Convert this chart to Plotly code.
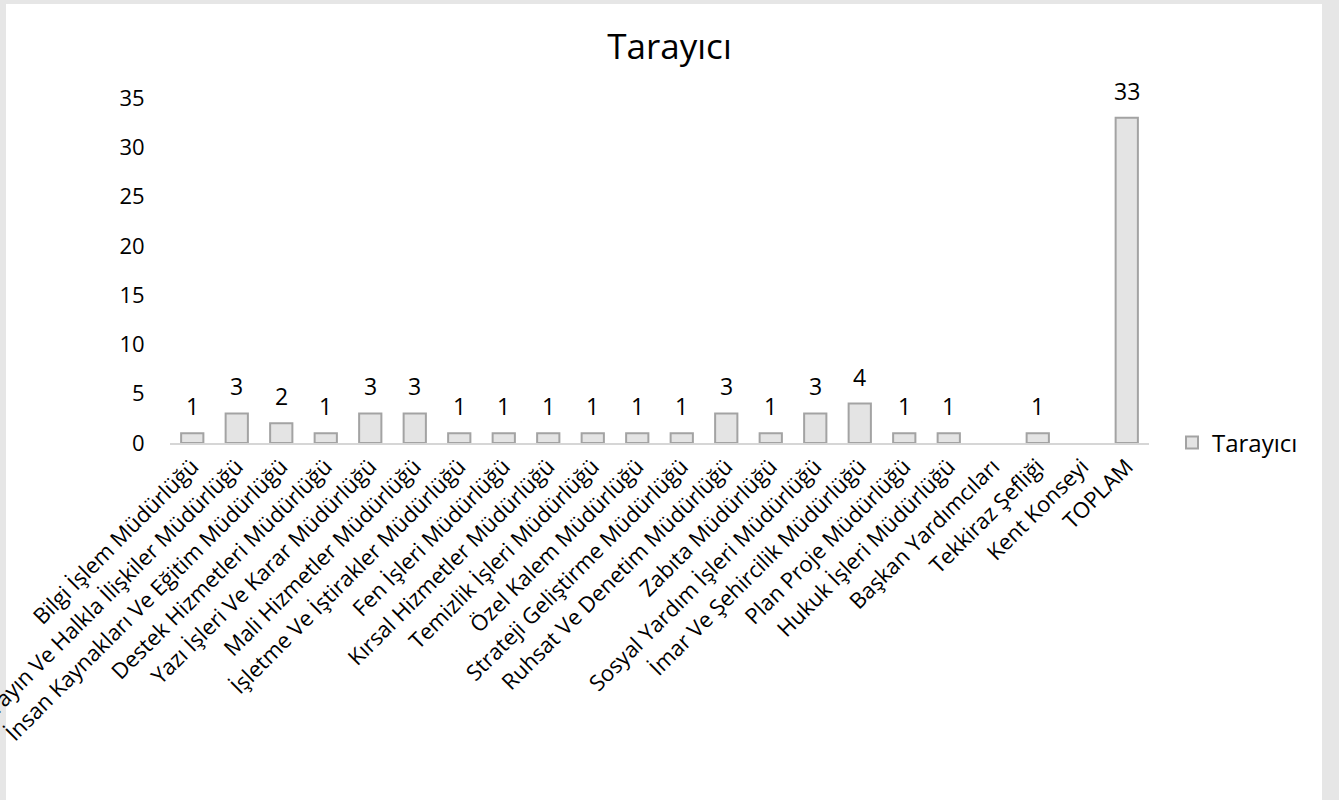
import plotly.graph_objects as go

categories = [
    "Bilgi İşlem Müdürlüğü",
    "Basın Yayın Ve Halkla İlişkiler Müdürlüğü",
    "İnsan Kaynakları Ve Eğitim Müdürlüğü",
    "Destek Hizmetleri Müdürlüğü",
    "Yazı İşleri Ve Karar Müdürlüğü",
    "Mali Hizmetler Müdürlüğü",
    "İşletme Ve İştirakler Müdürlüğü",
    "Fen İşleri Müdürlüğü",
    "Kırsal Hizmetler Müdürlüğü",
    "Temizlik İşleri Müdürlüğü",
    "Özel Kalem Müdürlüğü",
    "Strateji Geliştirme Müdürlüğü",
    "Ruhsat Ve Denetim Müdürlüğü",
    "Zabıta Müdürlüğü",
    "Sosyal Yardım İşleri Müdürlüğü",
    "İmar Ve Şehircilik Müdürlüğü",
    "Plan Proje Müdürlüğü",
    "Hukuk İşleri Müdürlüğü",
    "Başkan Yardımcıları",
    "Tekkiraz Şefliği",
    "Kent Konseyi",
    "TOPLAM",
]
values = [1, 3, 2, 1, 3, 3, 1, 1, 1, 1, 1, 1, 3, 1, 3, 4, 1, 1, None, 1, None, 33]
y_ticks = [0, 5, 10, 15, 20, 25, 30, 35]

FONT = "Open Sans"

fig = go.Figure()
fig.add_trace(go.Bar(
    x=categories,
    y=values,
    name="Tarayıcı",
    width=0.5,
    marker=dict(color="#e4e4e4", line=dict(color="#a3a3a3", width=2)),
    cliponaxis=False,
))

# data labels above bars
annotations = [
    dict(x=c, y=v, xref="x", yref="y", text=str(v), showarrow=False,
         yanchor="bottom", yshift=9,
         font=dict(family=FONT, size=23, color="#000000"))
    for c, v in zip(categories, values) if v is not None
]

# layout geometry (pixels)
W, H = 1339, 800
L, R, T, B = 170, 190, 98, 357
pw, ph = W - L - R, H - T - B

def px_x(p):
    return (p - L) / pw

def px_y(p):
    return (H - B - p) / ph

shapes = [
    dict(type="rect", xref="paper", yref="paper",
         x0=px_x(6), x1=px_x(1322), y0=px_y(805), y1=px_y(4),
         fillcolor="#ffffff", line=dict(width=0), layer="below"),
]

fig.update_layout(
    width=W, height=H,
    margin=dict(l=L, r=R, t=T, b=B, autoexpand=False),
    paper_bgcolor="#e6e6e6",
    plot_bgcolor="rgba(0,0,0,0)",
    shapes=shapes,
    annotations=annotations,
    title=dict(text="Tarayıcı", x=0.5, xref="container", xanchor="center",
               y=1 - 47 / H, yref="container", yanchor="middle",
               font=dict(family=FONT, size=35, color="#000000")),
    font=dict(family=FONT, color="#000000"),
    showlegend=True,
    legend=dict(x=px_x(1172), y=px_y(443), xanchor="left", yanchor="middle",
                font=dict(family=FONT, size=24, color="#000000"),
                bgcolor="rgba(0,0,0,0)", itemwidth=30),
    xaxis=dict(
        type="category",
        tickangle=-45,
        tickfont=dict(family=FONT, size=22, color="#000000"),
        showline=True, linecolor="#d6d6d6", linewidth=2,
        showgrid=False, ticks="", automargin=False,
    ),
    yaxis=dict(
        range=[0, 35],
        tickvals=y_ticks,
        tickfont=dict(family=FONT, size=22, color="#000000"),
        showline=False, showgrid=False, zeroline=False,
        ticks="outside", ticklen=20, tickcolor="rgba(0,0,0,0)",
        automargin=False,
    ),
)

fig.write_html(
    "out.html",
    config={"displayModeBar": False},
    post_script="document.body.style.margin='0';document.body.style.overflow='hidden';",
)
